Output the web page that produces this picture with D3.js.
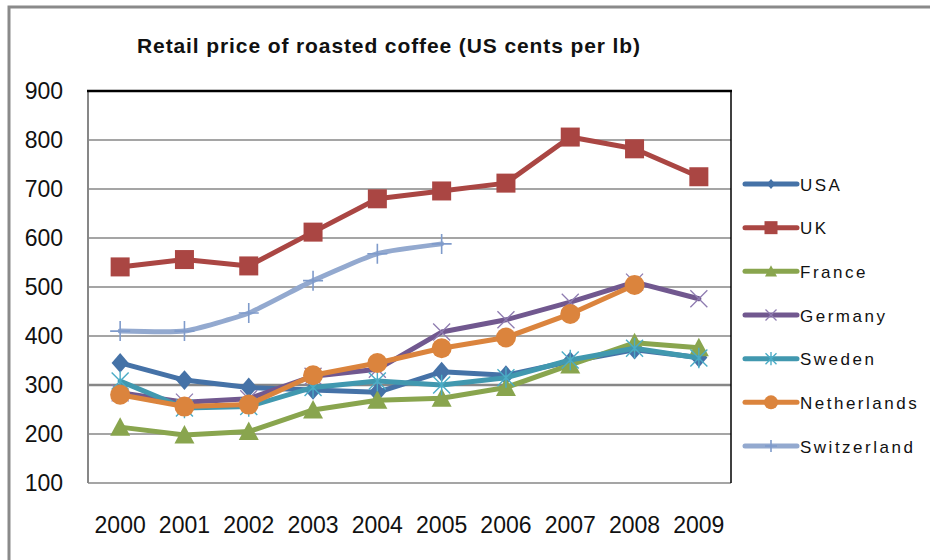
<!DOCTYPE html>
<html><head><meta charset="utf-8">
<script src="https://cdn.jsdelivr.net/npm/d3@7"></script>
<style>html,body{margin:0;padding:0;background:#fff;}svg{display:block;}</style>
</head><body><svg id="c" width="930" height="560"></svg>
<script>
const years = ["2000","2001","2002","2003","2004","2005","2006","2007","2008","2009"];
const yTicks = [100,200,300,400,500,600,700,800,900];
const title = "Retail price of roasted coffee (US cents per lb)";
const seriesNames = ["USA","UK","France","Germany","Sweden","Netherlands","Switzerland"];
const usa = [345,310,295,290,285,327,320,348,372,356];
const uk = [541,556,543,612,680,696,712,806,782,725];
const france = [214,198,205,249,269,273,295,341,386,376];
const germany = [284,265,272,318,332,408,433,469,510,476];
const sweden = [308,253,256,295,308,300,315,351,375,355];
const netherlands = [280,256,260,320,345,375,397,445,504,null];
const switzerland = [410,410,447,513,568,588,null,null,null,null];

const values = [usa,uk,france,germany,sweden,netherlands,switzerland];
const colors = ["#4572A7","#AA4643","#89A54E","#71588F","#4198AF","#DB843D","#93A9CF"];
const markerColors = ["#4572A7","#AA4643","#89A54E","#8E7BB0","#4BACC6","#DB843D","#7F9BCB"];
const markers = ["diamond","square","triangle","x","star","circle","plus"];

const svg = d3.select("#c");
const L = 88, R = 731, T = 91, B = 483;
const x = d3.scaleBand().domain(years).range([L, R]);
const cx = d => x(d) + x.bandwidth()/2;
const y = d3.scaleLinear().domain([100,900]).range([B, T]);

// outer frame
svg.append("path").attr("d","M9,565 L9,7 L935,7").attr("fill","none").attr("stroke","#8a8a8a").attr("stroke-width",3);

// gridlines
svg.append("g").selectAll("line").data(yTicks.filter(t => t>100 && t<900)).join("line")
  .attr("x1", L).attr("x2", R).attr("y1", d => y(d)).attr("y2", d => y(d))
  .attr("stroke", "#878787").attr("stroke-width", d => d===300 ? 2.5 : 1.6);
// plot borders
svg.append("line").attr("x1",L).attr("x2",L).attr("y1",T).attr("y2",B).attr("stroke","#878787").attr("stroke-width",2);
svg.append("line").attr("x1",L).attr("x2",R).attr("y1",B).attr("y2",B).attr("stroke","#878787").attr("stroke-width",1.6);
svg.append("line").attr("x1",L-1).attr("x2",R+1).attr("y1",T).attr("y2",T).attr("stroke","#000").attr("stroke-width",2.5);
svg.append("line").attr("x1",R).attr("x2",R).attr("y1",T).attr("y2",B).attr("stroke","#000").attr("stroke-width",1.5);

// axis labels
svg.append("g").selectAll("text").data(yTicks).join("text")
  .attr("x", 63).attr("y", d => y(d) + 8).attr("text-anchor","end")
  .attr("font-family","Liberation Sans, Arial, sans-serif").attr("font-size",23).attr("fill","#111")
  .text(d => d);
svg.append("g").selectAll("text").data(years).join("text")
  .attr("x", d => cx(d)).attr("y", 533).attr("text-anchor","middle")
  .attr("font-family","Liberation Sans, Arial, sans-serif").attr("font-size",23).attr("fill","#111")
  .text(d => d);

// title
svg.append("text").attr("x",137).attr("y",53)
  .attr("font-family","Liberation Sans, Arial, sans-serif").attr("font-weight","bold").attr("font-size",21)
  .attr("textLength",503).attr("lengthAdjust","spacing").attr("fill","#111").text(title);

function drawMarker(g, type, px, py, s, color) {
  const h = s/2;
  if (type === "diamond") {
    g.append("path").attr("d",`M${px},${py-h*1.1}L${px+h*0.95},${py}L${px},${py+h*1.1}L${px-h*0.95},${py}Z`).attr("fill",color);
  } else if (type === "square") {
    g.append("rect").attr("x",px-h).attr("y",py-h).attr("width",s).attr("height",s).attr("fill",color);
  } else if (type === "triangle") {
    g.append("path").attr("d",`M${px},${py-h}L${px+h},${py+h*0.85}L${px-h},${py+h*0.85}Z`).attr("fill",color);
  } else if (type === "circle") {
    g.append("circle").attr("cx",px).attr("cy",py).attr("r",h).attr("fill",color);
  } else if (type === "x") {
    g.append("path").attr("d",`M${px-h},${py-h}L${px+h},${py+h}M${px+h},${py-h}L${px-h},${py+h}`).attr("stroke",color).attr("stroke-width",1.3).attr("fill","none");
  } else if (type === "star") {
    g.append("path").attr("d",`M${px-h},${py-h}L${px+h},${py+h}M${px+h},${py-h}L${px-h},${py+h}M${px},${py-h*1.2}L${px},${py+h*1.2}`).attr("stroke",color).attr("stroke-width",1.4).attr("fill","none");
  } else if (type === "plus") {
    g.append("path").attr("d",`M${px-h},${py}L${px+h},${py}M${px},${py-h}L${px},${py+h}`).attr("stroke",color).attr("stroke-width",1.6).attr("fill","none");
  }
}
const markerSize = {diamond:18, square:19, triangle:20, circle:20, x:17, star:17, plus:20};
const legendMarkerSize = {diamond:9, square:13, triangle:12, circle:14, x:11, star:11, plus:12};

// series
values.forEach((vals, i) => {
  const g = svg.append("g");
  const data = years.map((yr, j) => ({yr, v: vals[j]}));
  const line = d3.line().defined(d => d.v != null).x(d => cx(d.yr)).y(d => y(d.v))
    .curve(i === 6 ? d3.curveCardinal.tension(0.5) : d3.curveLinear);
  g.append("path").attr("d", line(data)).attr("fill","none").attr("stroke",colors[i])
    .attr("stroke-width",5).attr("stroke-linejoin","round").attr("stroke-linecap","round");
  data.filter(d => d.v != null).forEach(d => drawMarker(g, markers[i], cx(d.yr), y(d.v), markerSize[markers[i]], markerColors[i]));
});

// legend
const legendY = d3.scaleLinear().domain([0, seriesNames.length-1]).range([184, 446]);
seriesNames.forEach((name, i) => {
  const g = svg.append("g");
  const ly = legendY(i);
  g.append("line").attr("x1",745).attr("x2",797).attr("y1",ly).attr("y2",ly).attr("stroke",colors[i]).attr("stroke-width",5).attr("stroke-linecap","round");
  drawMarker(g, markers[i], 771, ly, legendMarkerSize[markers[i]], markerColors[i]);
  g.append("text").attr("x",800).attr("y",ly+6.5)
    .attr("font-family","Liberation Sans, Arial, sans-serif").attr("font-size",17).attr("letter-spacing","2.5px").attr("fill","#111")
    .text(name);
});
</script></body></html>
